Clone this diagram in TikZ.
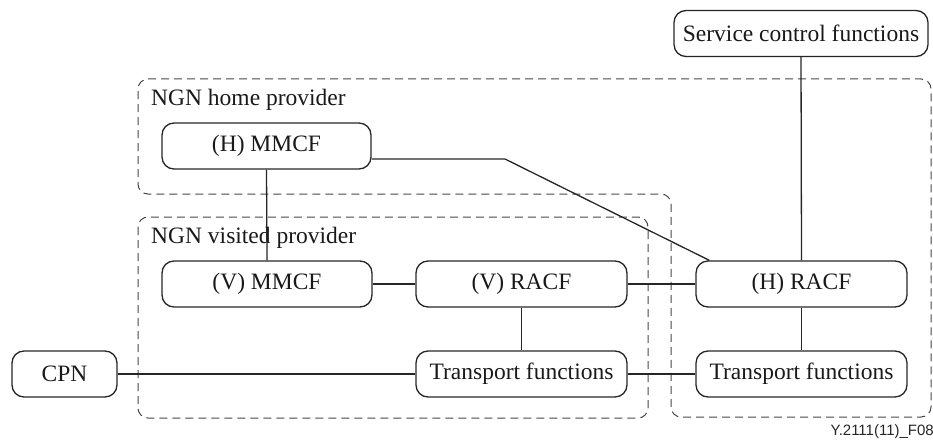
\documentclass[tikz,border=0pt]{standalone}
\usepackage{fontspec}
\setmainfont{Liberation Serif}
\newfontfamily\labelsans{Liberation Sans}
\begin{document}
\begin{tikzpicture}[x=1pt,y=-1pt,
  fbox/.style={draw=black!85, line width=1.3pt, rounded corners=12pt,
    minimum height=46pt, inner sep=0pt, font=\fontsize{23.5}{26}\selectfont, text=black!90},
  region/.style={draw=black!72, line width=1pt, dash pattern=on 8pt off 5pt, rounded corners=10pt},
  link/.style={draw=black!85, line width=1.3pt},
  rtitle/.style={anchor=west, inner sep=0pt, font=\fontsize{23.5}{26}\selectfont, text=black!90}]
\useasboundingbox (0,0) rectangle (933,441);

% provider domains
\draw[region] (138,79) -- (931,79) -- (931,417) -- (671,417) -- (671,194) -- (138,194) -- cycle;
\draw[region] (138,217) rectangle (648,418);
\node[rtitle] (homelbl) at (151,100) {NGN home provider};
\node[rtitle] (visitlbl) at (151,238) {NGN visited provider};

% functional entities
\node[fbox, minimum width=254pt] (svc) at (801,33.5) {Service control functions};
\node[fbox, minimum width=209pt] (hmmcf) at (266.5,146) {(H) MMCF};
\node[fbox, minimum width=210pt] (vmmcf) at (267,284) {(V) MMCF};
\node[fbox, minimum width=211pt] (vracf) at (521.5,284) {(V) RACF};
\node[fbox, minimum width=211pt] (hracf) at (801.5,284) {(H) RACF};
\node[fbox, minimum width=105pt] (cpn) at (64.5,374) {CPN};
\node[fbox, minimum width=211pt] (vtf) at (521.5,374) {Transport functions};
\node[fbox, minimum width=211pt] (htf) at (801.5,374) {Transport functions};

\node[anchor=east, inner sep=0pt, font=\labelsans\fontsize{15}{17}\selectfont, text=black!85] (figid) at (934,432) {Y.2111(11)\_F08};

% interfaces
\coordinate (bend) at (505,159);
\draw[link] (hmmcf.south) -- (vmmcf.north);
\draw[link] ([yshift=-13pt]hmmcf.east) -- (bend) -- ([xshift=14pt]hracf.north west);
\draw[link] (svc.south) -- (hracf.north);
\draw[link] (vmmcf.east) -- (vracf.west);
\draw[link] (vracf.east) -- (hracf.west);
\draw[link] (vracf.south) -- (vtf.north);
\draw[link] (hracf.south) -- (htf.north);
\draw[link] (cpn.east) -- (vtf.west);
\draw[link] (vtf.east) -- (htf.west);
\end{tikzpicture}
\end{document}
